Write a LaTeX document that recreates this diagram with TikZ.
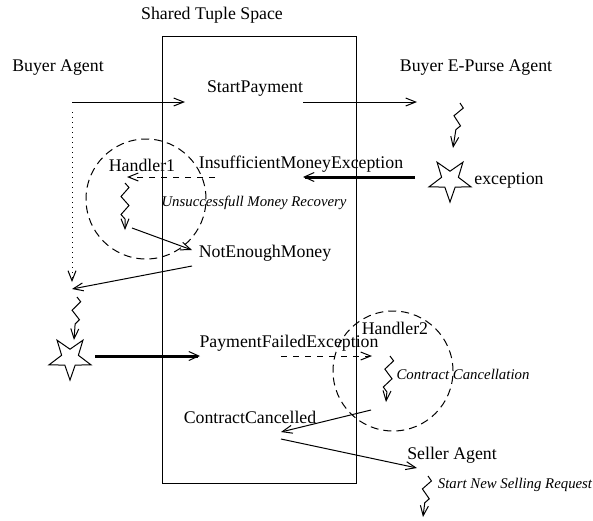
\documentclass[tikz,border=0pt]{standalone}
\usepackage{fontspec}
\setmainfont{Liberation Serif}
\usetikzlibrary{arrows.meta,shapes.geometric,decorations.pathmorphing}
\tikzset{
	zz/.style={->,decorate,decoration={zigzag,segment length=9pt,amplitude=2pt,pre length=0pt,post length=5pt}},
	hcirc/.style={draw,circle,dash pattern=on 4pt off 2.5pt,minimum size=60pt,inner sep=0pt},
	exstar/.style={draw,star,star points=5,star point ratio=2.5,shape border rotate=180,minimum size=22pt,inner sep=0pt},
	note/.style={font=\fontsize{7.4}{9}\selectfont\itshape},
	fat/.style={->,line width=1.5pt,>={Straight Barb[length=5pt,width=4.5pt,line width=0.5pt]}}
}
\begin{document}
\begin{tikzpicture}[x=0.5pt,y=-0.5pt,font=\fontsize{8.9}{10.5}\selectfont,line width=0.5pt,>={Straight Barb[length=5pt,width=4pt]}]
	\useasboundingbox (0,0) rectangle (593,520);
	% tuple space
	\node (tsp) at (212,15) {Shared Tuple Space};
	\draw (162,36) rectangle (356,483);
	% agents
	\node (buyer) at (58,68) {Buyer Agent};
	\node (purse) at (476,68) {Buyer E-Purse Agent};
	\node (seller) at (452,455) {Seller Agent};
	% tuples
	\node (start) at (255,89) {StartPayment};
	\node (insuf) at (301,164) {InsufficientMoneyException};
	\node (notenough) at (265,253) {NotEnoughMoney};
	\node (payfail) at (289,343) {PaymentFailedException};
	\node (cancelled) at (250,417) {ContractCancelled};
	% handlers
	\node[hcirc] (hc1) at (146,199) {};
	\node[hcirc] (hc2) at (393,371) {};
	\node (h1) at (142,165) {Handler1};
	\node (h2) at (395,328) {Handler2};
	\node[note] (recov) at (254,203) {Unsuccessfull Money Recovery};
	\node[note] (canc) at (463,374) {Contract Cancellation};
	\node[note] (newsell) at (515,485) {Start New Selling Request};
	% exceptions
	\node[exstar] (ex1) at (450,180) {};
	\node[exstar] (ex2) at (70,358) {};
	\node (exc) at (509,180) {exception};
	% connector ends
	\coordinate (b1) at (72,102); \coordinate (s1) at (185,102);
	\coordinate (s2) at (303,102); \coordinate (p1) at (417,102);
	\coordinate (b2) at (72,112); \coordinate (b3) at (72,282);
	\coordinate (p2) at (460,103); \coordinate (p3) at (453,148);
	\coordinate (e1) at (415,177); \coordinate (i1) at (303,177);
	\coordinate (i2) at (215,177); \coordinate (k1) at (127,177);
	\coordinate (k2) at (125,183); \coordinate (k3) at (125,230);
	\coordinate (k4) at (132,228); \coordinate (n1) at (192,250);
	\coordinate (n2) at (192,266); \coordinate (b4) at (72,289);
	\coordinate (b5) at (77,297); \coordinate (b6) at (74,340);
	\coordinate (e2) at (95,356); \coordinate (f1) at (200,356);
	\coordinate (f2) at (281,356); \coordinate (k5) at (372,356);
	\coordinate (k6) at (390,356); \coordinate (k7) at (386,402);
	\coordinate (k8) at (371,410); \coordinate (c1) at (281,432);
	\coordinate (c2) at (281,439); \coordinate (s3) at (417,468);
	\coordinate (s4) at (428,476); \coordinate (s5) at (423,517);
	% flow
	\draw[->] (b1)--(s1);
	\draw[->] (s2)--(p1);
	\draw[->,dotted] (b2)--(b3);
	\draw[zz] (p2)--(p3);
	\draw[fat] (e1)--(i1);
	\draw[->,dashed] (i2)--(k1);
	\draw[zz] (k2)--(k3);
	\draw[->] (k4)--(n1);
	\draw[->] (n2)--(b4);
	\draw[zz] (b5)--(b6);
	\draw[fat] (e2)--(f1);
	\draw[->,dashed] (f2)--(k5);
	\draw[zz] (k6)--(k7);
	\draw[->] (k8)--(c1);
	\draw[->] (c2)--(s3);
	\draw[zz] (s4)--(s5);
\end{tikzpicture}
\end{document}
